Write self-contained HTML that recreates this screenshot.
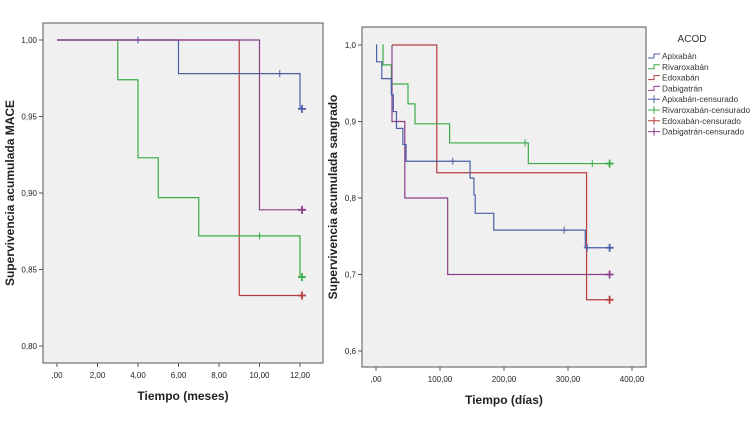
<!DOCTYPE html>
<html><head><meta charset="utf-8"><style>
body{margin:0;background:#fff;width:750px;height:425px;overflow:hidden;font-family:"Liberation Sans",sans-serif}
</style></head><body>
<svg id="svg" width="750" height="425" xmlns="http://www.w3.org/2000/svg"></svg>
<script>
// ---- Left chart data (MACE, months) ----
const leftXTicks = [0,2,4,6,8,10,12];
const leftXLabels = [",00","2,00","4,00","6,00","8,00","10,00","12,00"];
const leftYTicks = [0.80,0.85,0.90,0.95,1.00];
const leftYLabels = ["0,80","0,85","0,90","0,95","1,00"];
const lApiT = [0,6,12], lApiS = [1,0.978,0.955], lApiC = [[4,1],[11,0.978],[12.1,0.955]];
const lRivT = [3,3,4,5,7,12], lRivS = [1,0.974,0.923,0.897,0.872,0.845], lRivC = [[10,0.872],[12.1,0.845]];
const lEdoT = [0,9], lEdoS = [1,0.833], lEdoC = [[12.1,0.833]];
const lDabT = [0,10], lDabS = [1,0.889], lDabC = [[12.1,0.889]];
// ---- Right chart data (bleeding, days) ----
const rightXTicks = [0,100,200,300,400];
const rightXLabels = [",00","100,00","200,00","300,00","400,00"];
const rightYTicks = [0.6,0.7,0.8,0.9,1.0];
const rightYLabels = ["0,6","0,7","0,8","0,9","1,0"];
const rApiT = [0,1,9,24,27,32,42,47,147,153,155,184,327];
const rApiS = [1,0.978,0.956,0.935,0.913,0.891,0.870,0.848,0.826,0.804,0.780,0.758,0.735];
const rApiC = [[120,0.848],[294,0.758],[330,0.735],[365,0.735]];
const rRivT = [10,11,24,50,61,115,238];
const rRivS = [1,0.974,0.949,0.923,0.897,0.872,0.845];
const rRivC = [[233,0.872],[338,0.845],[365,0.845]];
const rEdoT = [25,95,329], rEdoS = [1,0.833,0.667], rEdoC = [[365,0.667]];
const rDabT = [25,25,45,112], rDabS = [1,0.9,0.8,0.7], rDabC = [[365,0.7]];
const legendNames = ["Apixabán","Rivaroxabán","Edoxabán","Dabigatrán","Apixabán-censurado","Rivaroxabán-censurado","Edoxabán-censurado","Dabigatrán-censurado"];
const COLORS = {api:"#4a5fa8",riv:"#3dab48",edo:"#b83c3c",dab:"#8a3f8a"};

const svg = document.getElementById('svg');
const NS = "http://www.w3.org/2000/svg";
function mk(tag, attrs, parent){const e=document.createElementNS(NS,tag);for(const k in attrs)e.setAttribute(k,attrs[k]);(parent||svg).appendChild(e);return e;}

function chart(cfg){
  const g = mk('g',{});
  
  
  const bg = mk('rect',{x:cfg.fx0,y:cfg.fy0,width:cfg.fx1-cfg.fx0,height:cfg.fy1-cfg.fy0,fill:"#f0f0f0",stroke:"#555","stroke-width":1},g);
  
  
  const X = v => cfg.x0px + (v - cfg.xmin)/(cfg.xmax-cfg.xmin)*(cfg.x1px-cfg.x0px);
  const Y = v => cfg.y0px + (v - cfg.ymin)/(cfg.ymax-cfg.ymin)*(cfg.y1px-cfg.y0px);
  cfg.xt.forEach((t,i)=>{
    mk('line',{x1:X(t),x2:X(t),y1:cfg.fy1,y2:cfg.fy1+4,stroke:"#555"},g);
    const tx = mk('text',{x:X(t),y:cfg.fy1+15,"font-size":8,"text-anchor":"middle",fill:"#222"},g);
    tx.textContent = cfg.xl[i];
    
    
  });
  cfg.yt.forEach((t,i)=>{
    mk('line',{x1:cfg.fx0-4,x2:cfg.fx0,y1:Y(t),y2:Y(t),stroke:"#555"},g);
    const tx = mk('text',{x:cfg.fx0-6,y:Y(t)+3,"font-size":8,"text-anchor":"end",fill:"#222"},g);
    tx.textContent = cfg.yl[i];
    
    
  });
  const xt = mk('text',{x:(cfg.fx0+cfg.fx1)/2,y:cfg.fy1+37,"font-size":12,"font-weight":"bold","text-anchor":"middle",fill:"#222"},g);
  xt.textContent = cfg.xtitle;
  
  
  const yc = (cfg.fy0+cfg.fy1)/2;
  const yt = mk('text',{x:cfg.ytx,y:yc,"font-size":12,"font-weight":"bold","text-anchor":"middle",fill:"#222",transform:`rotate(-90 ${cfg.ytx} ${yc})`},g);
  yt.textContent = cfg.ytitle;
  
  
  cfg.series.forEach(s=>{
    let d = `M${X(cfg.xmin>=0?s.start:0)},${Y(1)}`;
    let cur = 1;
    for(let i=0;i<s.t.length;i++){
      d += ` H${X(s.t[i])} V${Y(s.s[i])}`; cur = s.s[i];
    }
    d += ` H${X(s.end)}`;
    const p = mk('path',{d:d,fill:"none",stroke:s.c,"stroke-width":1.2},g);
    
    
    s.cens.forEach(c=>{
      const last = c[0] >= s.end - 1;
      const h = last?4:3.5;
      const cm = mk('path',{d:`M${X(c[0])},${Y(c[1])-h} V${Y(c[1])+h} M${X(c[0])-h},${Y(c[1])} H${X(c[0])+h}`,stroke:s.c,"stroke-width":last?1.8:1,fill:"none"},g);
      
      
    });
  });
}

chart({name:"mace-chart",fx0:43,fx1:323,fy0:23,fy1:363,x0px:57,x1px:300,xmin:0,xmax:12,y0px:346,y1px:40,ymin:0.80,ymax:1.00,
  xt:leftXTicks,xl:leftXLabels,yt:leftYTicks,yl:leftYLabels,xtitle:"Tiempo (meses)",ytitle:"Supervivencia acumulada MACE",ytx:14,
  series:[
    {name:"edoxaban",t:lEdoT,s:lEdoS,c:COLORS.edo,cens:lEdoC,start:0,end:12.1},
    {name:"rivaroxaban",t:lRivT,s:lRivS,c:COLORS.riv,cens:lRivC,start:3,end:12.1},
    {name:"apixaban",t:lApiT,s:lApiS,c:COLORS.api,cens:lApiC,start:0,end:12.1},
    {name:"dabigatran",t:lDabT,s:lDabS,c:COLORS.dab,cens:lDabC,start:0,end:12.1}
  ]});
chart({name:"bleeding-chart",fx0:362,fx1:646,fy0:27,fy1:367,x0px:376,x1px:632,xmin:0,xmax:400,y0px:351,y1px:45,ymin:0.6,ymax:1.0,
  xt:rightXTicks,xl:rightXLabels,yt:rightYTicks,yl:rightYLabels,xtitle:"Tiempo (días)",ytitle:"Supervivencia acumulada sangrado",ytx:337,
  series:[
    {name:"edoxaban",t:rEdoT,s:rEdoS,c:COLORS.edo,cens:rEdoC,start:25,end:365},
    {name:"rivaroxaban",t:rRivT,s:rRivS,c:COLORS.riv,cens:rRivC,start:10,end:365},
    {name:"dabigatran",t:rDabT,s:rDabS,c:COLORS.dab,cens:rDabC,start:25,end:365},
    {name:"apixaban",t:rApiT,s:rApiS,c:COLORS.api,cens:rApiC,start:0,end:365}
  ]});

// legend
const lg = mk('g',{});


const lt = mk('text',{x:692,y:42,"font-size":10,"text-anchor":"middle",fill:"#333"},lg);
lt.textContent = "ACOD";
const legCols = [COLORS.api,COLORS.riv,COLORS.edo,COLORS.dab];
legendNames.forEach((n,i)=>{
  const y = 56 + i*10.8;
  const c = legCols[i%4];
  if(i<4){
    mk('path',{d:`M648,${y+2} H654 V${y-2} H660`,stroke:c,fill:"none","stroke-width":1},lg);
  } else {
    mk('path',{d:`M648,${y} H660 M654,${y-4} V${y+4}`,stroke:c,fill:"none","stroke-width":1},lg);
  }
  const t = mk('text',{x:662,y:y+3,"font-size":8.3,fill:"#333"},lg);
  t.textContent = n;
  
  
});
</script>
</body></html>
